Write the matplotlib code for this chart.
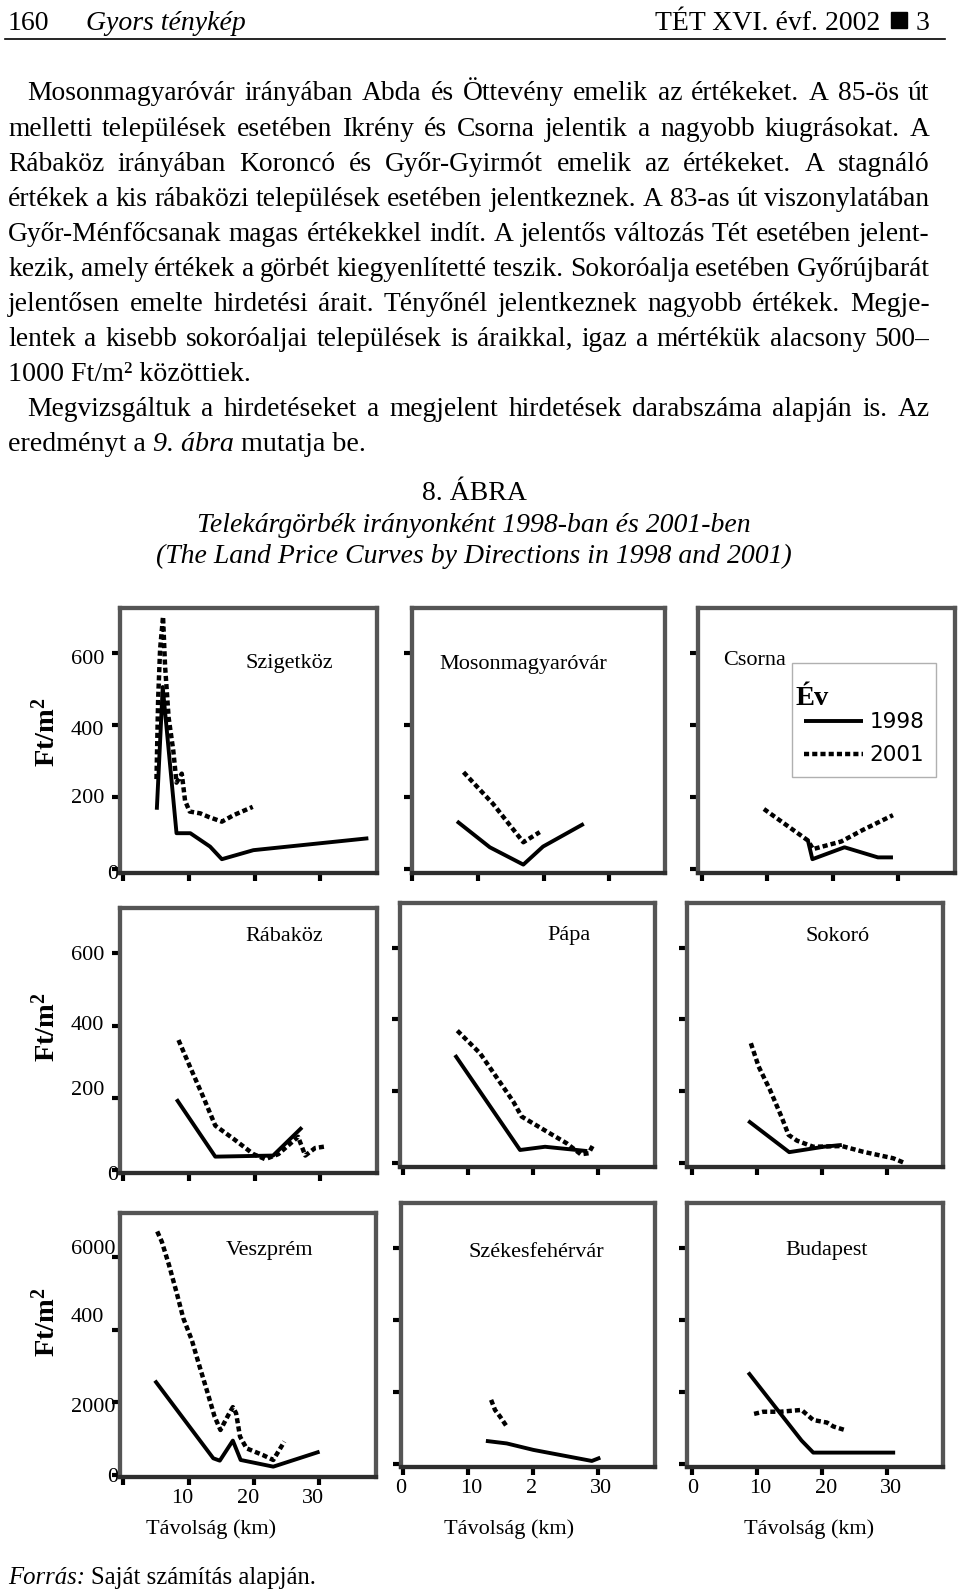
import matplotlib
matplotlib.use("Agg")
import matplotlib.pyplot as plt
from matplotlib.transforms import ScaledTranslation
from matplotlib.font_manager import FontProperties
from matplotlib.lines import Line2D
from matplotlib.patches import Rectangle

W, H, DPI = 960, 1593, 100
plt.rcParams['font.family'] = ['Liberation Serif', 'DejaVu Sans']
plt.rcParams['mathtext.fontset'] = 'custom'
plt.rcParams['mathtext.rm'] = 'Liberation Serif'
plt.rcParams['mathtext.it'] = 'Liberation Serif:italic'
plt.rcParams['mathtext.bf'] = 'Liberation Serif:bold'

# ------------------------------------------------------------------ data
directions = ['Szigetköz', 'Mosonmagyaróvár', 'Csorna',
              'Rábaköz', 'Pápa', 'Sokoró',
              'Veszprém', 'Székesfehérvár', 'Budapest']
years = ['1998', '2001']

y_ticks_small = [0, 200, 400, 600]
y_ticks_big = [0, 2000, 4000, 6000]
y_ticklabels_small = ['0', '200', '400', '600']
y_ticklabels_big = ['0', '2000', '400', '6000']
x_ticks = [0, 10, 20, 30]
x_ticklabels_bottom = [['', '10', '20', '30'], ['0', '10', '2', '30'], ['0', '10', '20', '30']]

szigetkoz_km_1998 = [5.1, 6.0, 8.1, 10.2, 13.2, 15.0, 19.8, 37.3]
szigetkoz_ar_1998 = [165, 505, 100, 100, 63, 28, 53, 86]
szigetkoz_km_2001 = [5.05, 5.3, 5.6, 6.05, 6.35, 6.9, 7.6, 8.1, 8.9, 9.4, 10.1, 11.7, 13.0, 15.0, 16.8, 19.7]
szigetkoz_ar_2001 = [250, 470, 610, 700, 565, 420, 330, 240, 265, 190, 160, 155, 145, 132, 150, 173]

mosonmagyarovar_km_1998 = [6.8, 11.8, 16.9, 19.9, 26.1]
mosonmagyarovar_ar_1998 = [133, 61, 13, 63, 126]
mosonmagyarovar_km_2001 = [7.8, 12.3, 16.9, 19.4]
mosonmagyarovar_ar_2001 = [269, 181, 75, 103]

csorna_km_1998 = [16.2, 16.9, 21.8, 26.9, 29.2]
csorna_ar_1998 = [81, 28, 61, 33, 33]
csorna_km_2001 = [9.5, 16.2, 17.0, 21.3, 24.6, 29.2]
csorna_ar_2001 = [167, 80, 56, 77, 109, 150]

rabakoz_km_1998 = [8.1, 14.0, 22.8, 27.2]
rabakoz_ar_1998 = [196, 37, 40, 118]
rabakoz_km_2001 = [8.4, 10.2, 12.2, 14.0, 16.8, 19.8, 21.6, 23.6, 26.6, 27.7, 29.2, 30.7]
rabakoz_ar_2001 = [360, 284, 201, 123, 86, 44, 30, 44, 92, 40, 61, 65]

papa_km_1998 = [8.05, 18.05, 21.9, 28.4]
papa_ar_1998 = [301, 37, 46, 34]
papa_km_2001 = [8.4, 11.9, 17.0, 18.3, 22.2, 25.2, 27.4, 28.6, 29.3]
papa_ar_2001 = [369, 306, 172, 130, 88, 56, 25, 28, 51]

sokoro_km_1998 = [8.7, 15.0, 20.3, 23.1]
sokoro_ar_1998 = [118, 31, 46, 51]
sokoro_km_2001 = [9.1, 10.3, 12.05, 13.8, 14.9, 16.2, 18.7, 23.1, 26.4, 31.0, 32.6]
sokoro_ar_2001 = [334, 269, 204, 130, 79, 63, 46, 48, 32, 14, 2]

veszprem_km_1998 = [4.85, 13.8, 14.8, 16.8, 18.0, 23.0, 30.1]
veszprem_ar_1998 = [2600, 460, 395, 947, 414, 230, 643]
veszprem_km_2001 = [5.2, 5.9, 7.0, 8.2, 9.2, 10.5, 11.7, 12.8, 14.0, 14.9, 16.1, 16.8, 17.3, 17.9, 18.9, 21.4, 23.0, 24.7]
veszprem_ar_2001 = [6710, 6430, 5790, 5010, 4320, 3720, 2990, 2340, 1610, 1240, 1650, 1870, 1700, 1060, 735, 550, 414, 920]

szekesfehervar_km_1998 = [12.8, 16.0, 20.1, 29.1, 30.4]
szekesfehervar_ar_1998 = [650, 580, 400, 93, 185]
szekesfehervar_km_2001 = [13.6, 14.2, 15.0, 16.0]
szekesfehervar_ar_2001 = [1790, 1510, 1320, 1050]

budapest_km_1998 = [8.7, 16.9, 18.7, 31.3]
budapest_ar_1998 = [2550, 660, 325, 325]
budapest_km_2001 = [9.6, 11.0, 13.6, 16.9, 18.7, 20.8, 21.8, 23.6]
budapest_ar_2001 = [1400, 1460, 1460, 1510, 1230, 1160, 1050, 950]

series = [
    ((szigetkoz_km_1998, szigetkoz_ar_1998), (szigetkoz_km_2001, szigetkoz_ar_2001)),
    ((mosonmagyarovar_km_1998, mosonmagyarovar_ar_1998), (mosonmagyarovar_km_2001, mosonmagyarovar_ar_2001)),
    ((csorna_km_1998, csorna_ar_1998), (csorna_km_2001, csorna_ar_2001)),
    ((rabakoz_km_1998, rabakoz_ar_1998), (rabakoz_km_2001, rabakoz_ar_2001)),
    ((papa_km_1998, papa_ar_1998), (papa_km_2001, papa_ar_2001)),
    ((sokoro_km_1998, sokoro_ar_1998), (sokoro_km_2001, sokoro_ar_2001)),
    ((veszprem_km_1998, veszprem_ar_1998), (veszprem_km_2001, veszprem_ar_2001)),
    ((szekesfehervar_km_1998, szekesfehervar_ar_1998), (szekesfehervar_km_2001, szekesfehervar_ar_2001)),
    ((budapest_km_1998, budapest_ar_1998), (budapest_km_2001, budapest_ar_2001)),
]

body_lines = [
    "Mosonmagyaróvár irányában Abda és Öttevény emelik az értékeket. A 85-ös út",
    "melletti települések esetében Ikrény és Csorna jelentik a nagyobb kiugrásokat. A",
    "Rábaköz irányában Koroncó és Győr-Gyirmót emelik az értékeket. A stagnáló",
    "értékek a kis rábaközi települések esetében jelentkeznek. A 83-as út viszonylatában",
    "Győr-Ménfőcsanak magas értékekkel indít. A jelentős változás Tét esetében jelent-",
    "kezik, amely értékek a görbét kiegyenlítetté teszik. Sokoróalja esetében Győrújbarát",
    "jelentősen emelte hirdetési árait. Tényőnél jelentkeznek nagyobb értékek. Megje-",
    "lentek a kisebb sokoróaljai települések is áraikkal, igaz a mértékük alacsony 500–",
    "1000 Ft/m² közöttiek.",
    "Megvizsgáltuk a hirdetéseket a megjelent hirdetések darabszáma alapján is. Az",
]

# ------------------------------------------------------------------ layout (pixels)
# (left, top, right, bottom, x=0 px, px per 10 km, y=0 px, px per y-step)
layout = [
    (120.0, 608.0, 377.0, 873.0, 123.3, 65.7, 869.3, 72.2),
    (411.7, 608.0, 665.0, 873.0, 412.3, 65.7, 869.3, 72.2),
    (698.3, 608.0, 955.0, 873.0, 701.7, 65.5, 869.3, 72.2),
    (120.0, 908.3, 376.7, 1173.3, 123.3, 65.7, 1170.0, 72.2),
    (400.0, 902.7, 655.0, 1166.7, 402.7, 65.0, 1163.3, 71.9),
    (687.3, 903.3, 943.3, 1166.7, 691.7, 65.0, 1163.3, 71.9),
    (120.0, 1212.7, 376.0, 1476.7, 123.3, 65.2, 1475.0, 72.6),
    (400.7, 1203.3, 655.0, 1466.7, 402.7, 65.0, 1464.3, 72.0),
    (687.3, 1203.3, 943.3, 1466.7, 691.7, 65.0, 1464.3, 72.0),
]
title_pos = [(289.3, 668), (523.3, 669), (754.5, 665),
             (284.2, 941), (568.7, 940), (838.0, 941),
             (269.2, 1255), (536.3, 1257), (826.2, 1255)]
ylab_offsets = {0: [(36, 5), (0, 1), (0, 6), (0, 7)],
                1: [(36, 5), (0, -7), (0, 0), (0, 2)],
                2: [(36, 3), (0, 5), (0, -12), (0, -8)]}
xlab_offsets = [[-6, -6, -6, -6], [-1.7, 4, -1, 3], [1.3, 4, 4, 4]]
xlabel_coords = [(0.355, -0.198), (0.428, -0.2365), (0.475, -0.2365)]
ylabel_y = [0.533, 0.553, 0.587]

fig = plt.figure(figsize=(W / DPI, H / DPI), dpi=DPI)
fig.patch.set_facecolor('white')


def shift(artist, dx, dy):
    artist.set_transform(artist.get_transform() +
                         ScaledTranslation(dx / DPI, -dy / DPI, fig.dpi_scale_trans))


TICK_FS = 16
axes = []
for i, name in enumerate(directions):
    row, col = divmod(i, 3)
    l, t, r, b, x0, p10, y0, pst = layout[i]
    ax = fig.add_axes([l / W, 1 - b / H, (r - l) / W, (b - t) / H])
    axes.append(ax)
    step = 200 if row < 2 else 2000
    ax.set_xlim((l - x0) / p10 * 10, (r - x0) / p10 * 10)
    ax.set_ylim((y0 - b) / pst * step, (y0 - t) / pst * step)
    (k98, a98), (k01, a01) = series[i]
    ax.plot(k98, a98, color='black', lw=2.8, label=years[0], solid_capstyle='butt')
    ax.plot(k01, a01, color='black', lw=3.2, dashes=(1.15, 0.7), label=years[1])
    for s in ax.spines.values():
        s.set_color('#555555')
        s.set_linewidth(3.1)
    ax.spines['bottom'].set_color('#2e2e2e')
    ax.tick_params(axis='both', direction='out', length=5.5, width=3.0, color='black',
                   labelsize=TICK_FS, labelcolor='black')
    ax.tick_params(axis='y', pad=29.8)
    ax.tick_params(axis='x', pad=3.6)
    yt = y_ticks_small if row < 2 else y_ticks_big
    ylabs = y_ticklabels_small if row < 2 else y_ticklabels_big
    if col == 0:
        ax.set_yticks(yt, labels=ylabs, ha='left', va='center')
        for tick, (dx, dy) in zip(ax.yaxis.get_major_ticks(), ylab_offsets[row]):
            shift(tick.label1, dx, dy)
        ax.set_ylabel('$\\mathbf{Ft/m^{2}}$', fontsize=20.5, va='center')
        ax.yaxis.set_label_coords((46 - l) / (r - l), ylabel_y[row])
    else:
        ax.set_yticks(yt)
        ax.tick_params(axis='y', labelleft=False)
    if row == 2:
        ax.set_xticks(x_ticks, labels=x_ticklabels_bottom[col])
        for tick, dx in zip(ax.xaxis.get_major_ticks(), xlab_offsets[col]):
            shift(tick.label1, dx, 0)
        ax.set_xlabel('Távolság (km)', fontsize=16, va='center')
        ax.xaxis.set_label_coords(*xlabel_coords[col])
    else:
        ax.set_xticks(x_ticks)
        ax.tick_params(axis='x', labelbottom=False)
    tx, ty = title_pos[i]
    fig.text(tx / W, 1 - ty / H, name, ha='center', va='baseline', fontsize=16)

# legend in the Csorna panel
leg = axes[2].legend(title='Év', loc='upper left', bbox_to_anchor=(0.364, 0.7936),
                     borderaxespad=0, frameon=True, fancybox=False, framealpha=1,
                     edgecolor='#b0b0b0', facecolor='white',
                     prop=FontProperties(family='DejaVu Sans', size=15.5),
                     title_fontproperties=FontProperties(family='Liberation Serif', weight='bold', size=20.5),
                     handlelength=2.75, handletextpad=0.3, labelspacing=0.6, borderpad=0.55,
                     alignment='left')
leg.get_frame().set_linewidth(1.0)
shift(leg.get_title(), -8, 11)

# ------------------------------------------------------------------ page text
renderer = fig.canvas.get_renderer()
BODY_FS = 19.8


def put(x, y, s, **kw):
    return fig.text(x / W, 1 - y / H, s, va='baseline', ha='left', **kw)


def width_of(t):
    return t.get_window_extent(renderer).width


def justified(line, x0, x1, y, fs):
    words = line.split(' ')
    ts = [put(0, y, w, fontsize=fs) for w in words]
    ws = [width_of(t) for t in ts]
    gap = (x1 - x0 - sum(ws)) / (len(words) - 1)
    x = x0
    for t, w in zip(ts, ws):
        t.set_x(x / W)
        x += w + gap


def run(pieces, x0, y, fs):
    x = x0
    sp = 0.25 * fs * DPI / 72
    for s, style in pieces:
        t = put(x, y, s, fontsize=fs, style=style)
        x += width_of(t) + sp


# header
put(8, 30, '160', fontsize=20)
put(86.4, 30, 'Gyors ténykép', fontsize=20, style='italic')
fig.text(880 / W, 1 - 30 / H, 'TÉT XVI. évf. 2002', ha='right', va='baseline', fontsize=20)
fig.patches.append(Rectangle((891 / W, 1 - 28 / H), 16 / W, 16 / H,
                             transform=fig.transFigure, color='black'))
put(916, 30, '3', fontsize=20)
fig.add_artist(Line2D([5 / W, 945 / W], [1 - 38.6 / H] * 2, lw=1.2, color='black'))

LX0, LX1, IND = 8.0, 929.6, 27.4
base0, lead = 100.5, 35.05
for i, line in enumerate(body_lines):
    y = base0 + i * lead
    x0 = IND if i in (0, 9) else LX0
    if i == 8:
        put(x0, y, line, fontsize=BODY_FS + 0.4)
    else:
        justified(line, x0, LX1, y, BODY_FS)
run([('eredményt a', 'normal'), ('9. ábra', 'italic'), ('mutatja be.', 'normal')],
    LX0, base0 + 10 * lead, BODY_FS + 0.4)

# caption
fig.text(474 / W, 1 - 500 / H, '8. ÁBRA', ha='center', va='baseline', fontsize=20)
fig.text(474 / W, 1 - 531.5 / H, 'Telekárgörbék irányonként 1998-ban és 2001-ben',
         ha='center', va='baseline', fontsize=20, style='italic')
fig.text(474 / W, 1 - 563 / H, '(The Land Price Curves by Directions in 1998 and 2001)',
         ha='center', va='baseline', fontsize=20, style='italic')

# source
run([('Forrás:', 'italic'), ('Saját számítás alapján.', 'normal')], 8, 1584, 17.8)

fig.savefig('out.png', dpi=DPI, facecolor='white')
